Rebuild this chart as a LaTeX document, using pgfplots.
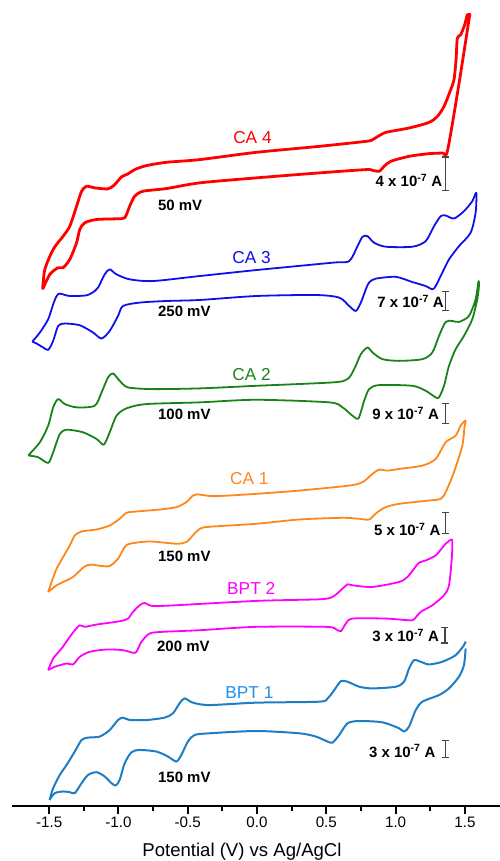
\documentclass[border=0pt]{standalone}
\usepackage{pgfplots}
\pgfplotsset{compat=1.18}
\usepackage{fontspec}
\setmainfont{Liberation Sans}
\usetikzlibrary{arrows.meta}
\definecolor{cRed}{RGB}{255,0,0}
\definecolor{cBlue}{RGB}{15,15,235}
\definecolor{cGreen}{RGB}{25,130,25}
\definecolor{cOrange}{RGB}{255,135,25}
\definecolor{cMag}{RGB}{255,0,255}
\definecolor{cCyan}{RGB}{30,125,195}
\definecolor{cCyanL}{RGB}{30,144,240}
\definecolor{cBar}{RGB}{70,70,70}
\newcommand\biglab{\fontsize{17.3}{20}\selectfont}
\newcommand\smlab{\fontsize{15.2}{18}\selectfont}
\newcommand\anlab{\fontsize{15}{18}\selectfont\bfseries}
\begin{document}
\begin{tikzpicture}
\begin{axis}[
  scale only axis,
  width=491.2pt, height=808pt,
  xmin=-1.768, xmax=1.768,
  ymin=0, ymax=808,
  clip=false,
  axis x line*=bottom,
  axis y line=none,
  axis line style={line width=2.2pt},
  xtick={-1.5,-1,-0.5,0,0.5,1,1.5},
  xticklabels={-1.5,-1.0,-0.5,0.0,0.5,1.0,1.5},
  minor x tick num=1,
  tick align=outside,
  major tick length=8pt,
  minor tick length=5pt,
  every tick/.style={line width=2pt, black},
  xticklabel style={font=\smlab, inner sep=3pt},
  xlabel={Potential (V) vs Ag/AgCl},
  xlabel style={font=\fontsize{18.6}{21}\selectfont, at={(axis description cs:0.4693,-0.0619)}, anchor=base},
  every axis plot/.append style={smooth, tension=0.45, line join=round},
]
% CA 4
\addplot[cRed, line width=2.8pt] coordinates {
(-1.547,518) (-1.531,538) (-1.471,558) (-1.399,571.3) (-1.351,581.3) (-1.302,601.3)
(-1.266,616.3) (-1.230,621.3) (-1.171,619.7) (-1.075,618.7) (-1.027,623) (-0.978,630.7)
(-0.931,633.7) (-0.883,638) (-0.798,642) (-0.654,645.3) (-0.415,648) (-0.006,655.3)
(0.449,661.3) (0.785,666.3) (0.833,668) (0.893,673) (0.941,675.7) (1.097,679.7)
(1.241,685.3) (1.301,691.3) (1.349,701.3) (1.397,718) (1.421,728) (1.436,748)
(1.445,769.7) (1.469,773) (1.498,783) (1.517,793) (1.534,793)
(1.529,788) (1.450,718) (1.373,656.3) (1.337,654.7) (1.241,654) (1.097,651.3)
(0.965,646.3) (0.917,641.3) (0.881,636.3) (0.833,637.3) (0.785,638) (0.449,634.7)
(-0.006,629.7) (-0.415,624.7) (-0.654,619) (-0.823,616.3) (-0.883,611.3) (-0.919,601.3)
(-0.955,589.7) (-1.014,588.7) (-1.158,588) (-1.243,584.7) (-1.279,578) (-1.302,564.7)
(-1.351,548) (-1.399,539.7) (-1.435,539.7) (-1.495,533) (-1.547,518)
};
% CA 3
\addplot[cBlue, line width=1.8pt] coordinates {
(-1.622,465.5) (-1.567,474.7) (-1.507,488) (-1.471,503) (-1.446,511.3) (-1.423,513.7)
(-1.351,511.3) (-1.230,512) (-1.171,516.3) (-1.147,519.7) (-1.099,533) (-1.063,538)
(-1.014,533) (-0.919,528) (-0.751,526.3) (-0.415,531.3) (-0.006,537.3) (0.545,544.7)
(0.665,546.3) (0.725,561.3) (0.761,570.7) (0.797,571.3) (0.845,564.7) (0.929,560.7)
(1.121,560.7) (1.217,566.3) (1.277,581.3) (1.325,591.3) (1.361,592) (1.421,589)
(1.493,596.3) (1.553,606.3) (1.582,614.7)
(1.577,594.7) (1.541,574.7) (1.457,561.3) (1.385,548) (1.337,534.7) (1.289,521.3)
(1.265,518) (1.217,521.3) (1.121,525.3) (1.001,530.5) (0.857,528.7) (0.809,525)
(0.785,518) (0.749,504.7) (0.713,496.3) (0.665,501.3) (0.593,509.7) (0.425,512.3)
(-0.006,511.3) (-0.415,507.3) (-0.654,506.3) (-0.847,504.7) (-0.967,501.3) (-1.003,491.3)
(-1.063,476.3) (-1.122,468.7) (-1.183,474.7) (-1.279,482) (-1.387,483.7) (-1.435,481.3)
(-1.471,466.3) (-1.507,457.3) (-1.543,459.7) (-1.595,464) (-1.622,465.5)
};
% CA 2
\addplot[cGreen, line width=1.8pt] coordinates {
(-1.651,351.5) (-1.567,364.7) (-1.507,381.3) (-1.471,399.7) (-1.435,408) (-1.387,403)
(-1.302,399.7) (-1.171,401.3) (-1.122,414.7) (-1.075,429.7) (-1.039,433.7) (-0.991,426.3)
(-0.931,419.7) (-0.751,418) (-0.415,418.7) (-0.006,421.3) (0.545,424.7) (0.653,428)
(0.701,438) (0.749,453) (0.797,459.7) (0.833,454.7) (0.905,448) (1.025,446.3)
(1.193,448) (1.265,454.7) (1.313,471.3) (1.361,485.3) (1.409,486.3) (1.457,485.3)
(1.529,491.3) (1.577,508) (1.598,526)
(1.601,521) (1.589,508) (1.553,488) (1.493,471.3) (1.433,458) (1.385,441.3)
(1.349,421.3) (1.313,409.7) (1.289,409.7) (1.217,416.3) (1.121,421.3) (0.881,422)
(0.809,418) (0.773,406.3) (0.732,388.7) (0.689,391.3) (0.617,399.7) (0.521,404.7)
(-0.006,407.3) (-0.415,404.7) (-0.798,403) (-0.942,398.7) (-1.014,391.3) (-1.063,374.7)
(-1.106,362.3) (-1.158,368) (-1.255,374.7) (-1.374,377.3) (-1.423,373) (-1.471,354.7)
(-1.507,344) (-1.579,349.7) (-1.651,351.5)
};
% CA 1
\addplot[cOrange, line width=1.8pt] coordinates {
(-1.507,214.7) (-1.482,224.7) (-1.446,238) (-1.399,249.7) (-1.351,261.3) (-1.315,271.3)
(-1.266,275.3) (-1.158,277.3) (-1.063,281.3) (-0.991,288) (-0.942,294) (-0.870,295.3)
(-0.703,297.3) (-0.582,299.7) (-0.510,304.7) (-0.465,311) (-0.429,312.5) (-0.379,311.5)
(-0.294,310.7) (-0.006,313) (0.305,316.3) (0.665,321.3) (0.761,324.7) (0.833,333)
(0.881,337.3) (0.941,336.3) (1.025,338) (1.193,341.3) (1.289,348) (1.361,364.7)
(1.433,371.3) (1.469,381.3) (1.504,386.5)
(1.497,380) (1.481,361.3) (1.421,334.7) (1.361,314.7) (1.325,308) (1.241,306.3)
(1.025,303) (0.929,299.7) (0.869,294.7) (0.809,287.3) (0.737,288) (0.617,289)
(0.305,287.3) (-0.006,283) (-0.366,279.7) (-0.427,276.3) (-0.463,271.3) (-0.510,264.7)
(-0.582,263) (-0.775,265.3) (-0.919,263) (-0.955,259.7) (-1.003,248) (-1.063,240.7)
(-1.122,240.7) (-1.194,242) (-1.243,240.3) (-1.327,229.7) (-1.374,226.3) (-1.446,221.3)
(-1.507,214.7)
};
% BPT 2
\addplot[cMag, line width=1.8pt] coordinates {
(-1.507,136.3) (-1.471,148) (-1.410,158) (-1.351,169.7) (-1.315,176.3) (-1.279,181.3)
(-1.243,179.7) (-1.158,182) (-0.991,185.3) (-0.931,188) (-0.895,194.7) (-0.847,201.3)
(-0.811,203.7) (-0.775,201.3) (-0.679,200.7) (-0.006,205.7) (0.449,207.3) (0.545,209.7)
(0.617,218) (0.653,222.3) (0.689,221.3) (0.833,219.7) (1.025,224.7) (1.085,229.7)
(1.133,238) (1.169,244) (1.217,246.3) (1.289,251.3) (1.361,263) (1.405,267.3)
(1.409,263) (1.405,248) (1.385,221.3) (1.349,211.3) (1.265,201.3) (1.181,194.7)
(1.133,187.3) (1.097,186.3) (0.929,188) (0.689,188) (0.641,183) (0.605,175.3)
(0.569,177.3) (0.497,179.7) (-0.006,179.7) (-0.415,176.3) (-0.679,174.7) (-0.775,173)
(-0.834,164.7) (-0.870,154.7) (-0.895,153.7) (-0.967,156.3) (-1.086,157) (-1.207,154.7)
(-1.279,149.7) (-1.327,142) (-1.374,143) (-1.459,139.7) (-1.507,136.3)
};
% BPT 1
\addplot[cCyan, line width=2pt] coordinates {
(-1.497,6.3) (-1.471,18) (-1.423,31.3) (-1.374,41.3) (-1.315,54.7) (-1.266,66.3)
(-1.219,68.7) (-1.135,69.7) (-1.063,76.3) (-1.003,86.3) (-0.967,88.7) (-0.919,86.3)
(-0.798,86.3) (-0.667,88.7) (-0.607,93) (-0.559,103) (-0.523,108) (-0.463,103.7)
(-0.343,101.3) (-0.006,103.7) (0.449,104.7) (0.509,108) (0.557,116.3) (0.605,125.3)
(0.653,124.7) (0.737,119.7) (0.833,118) (1.001,119.7) (1.061,124.7) (1.097,138)
(1.133,146.3) (1.181,144.7) (1.241,142) (1.337,144.7) (1.433,151.3) (1.493,161.3)
(1.505,165)
};
\addplot[cCyan, line width=2pt] coordinates {
(1.505,158) (1.493,141.3) (1.457,129.7) (1.385,118) (1.313,111.3) (1.193,104.7)
(1.145,96.3) (1.097,79.7) (1.061,74.7) (1.025,78) (0.905,84) (0.737,85.3)
(0.653,83) (0.593,71.3) (0.545,63.7) (0.509,64.7) (0.425,69.7) (0.305,73)
(-0.006,75.3) (-0.343,73) (-0.451,71.3) (-0.499,64.7) (-0.546,51.3) (-0.582,44.7)
(-0.643,49.7) (-0.726,54.7) (-0.847,56.3) (-0.906,54) (-0.955,43) (-0.991,26.3)
(-1.019,20.7) (-1.050,23) (-1.099,29.7) (-1.158,34) (-1.219,31.3) (-1.266,23)
(-1.315,13) (-1.351,14) (-1.399,14.7) (-1.459,13) (-1.497,6.3)
};
% curve labels
\node[font=\biglab, text=cRed] at (axis cs:-0.033,670.3) {CA 4};
\node[font=\biglab, text=cBlue] at (axis cs:-0.040,549.7) {CA 3};
\node[font=\biglab, text=cGreen] at (axis cs:-0.040,433) {CA 2};
\node[font=\biglab, text=cOrange] at (axis cs:-0.055,328) {CA 1};
\node[font=\biglab, text=cMag] at (axis cs:-0.042,218) {BPT 2};
\node[font=\biglab, text=cCyanL] at (axis cs:-0.055,113.8) {BPT 1};
% scan rates
\node[font=\anlab, anchor=west, inner sep=0pt] at (axis cs:-0.715,602.3) {50 mV};
\node[font=\anlab, anchor=west, inner sep=0pt] at (axis cs:-0.715,496.3) {250 mV};
\node[font=\anlab, anchor=west, inner sep=0pt] at (axis cs:-0.715,393) {100 mV};
\node[font=\anlab, anchor=west, inner sep=0pt] at (axis cs:-0.715,250.7) {150 mV};
\node[font=\anlab, anchor=west, inner sep=0pt] at (axis cs:-0.722,159.7) {200 mV};
\node[font=\anlab, anchor=west, inner sep=0pt] at (axis cs:-0.715,29) {150 mV};
% current scale labels
\node[font=\anlab, anchor=base east, inner sep=0pt] at (axis cs:1.337,620.8) {4 x 10\textsuperscript{-7} A};
\node[font=\anlab, anchor=base east, inner sep=0pt] at (axis cs:1.349,499.8) {7 x 10\textsuperscript{-7} A};
\node[font=\anlab, anchor=base east, inner sep=0pt] at (axis cs:1.313,387.5) {9 x 10\textsuperscript{-7} A};
\node[font=\anlab, anchor=base east, inner sep=0pt] at (axis cs:1.325,270.8) {5 x 10\textsuperscript{-7} A};
\node[font=\anlab, anchor=base east, inner sep=0pt] at (axis cs:1.313,165.2) {3 x 10\textsuperscript{-7} A};
\node[font=\anlab, anchor=base east, inner sep=0pt] at (axis cs:1.289,49.2) {3 x 10\textsuperscript{-7} A};
% scale bars
\draw[cBar, line width=1.2pt, {Bar[width=7pt]}-{Bar[width=7pt]}] (axis cs:1.361,651.3) -- (axis cs:1.361,616.3);
\draw[cBar, line width=1.2pt, {Bar[width=7pt]}-{Bar[width=7pt]}] (axis cs:1.361,516.3) -- (axis cs:1.361,496.3);
\draw[cBar, line width=1.2pt, {Bar[width=7pt]}-{Bar[width=7pt]}] (axis cs:1.361,404) -- (axis cs:1.361,383);
\draw[cBar, line width=1.2pt, {Bar[width=7pt]}-{Bar[width=7pt]}] (axis cs:1.361,294.7) -- (axis cs:1.361,273);
\draw[cBar, line width=1.2pt, {Bar[width=7pt]}-{Bar[width=7pt]}] (axis cs:1.356,179.7) -- (axis cs:1.356,163);
\draw[cBar, line width=1.2pt, {Bar[width=7pt]}-{Bar[width=7pt]}] (axis cs:1.361,66.3) -- (axis cs:1.361,48);
\coordinate (bbl) at (axis cs:-1.8546,-55);
\coordinate (bbr) at (axis cs:1.752,808);
\end{axis}
\pgfresetboundingbox
\useasboundingbox (bbl) rectangle (bbr);
\end{tikzpicture}
\end{document}
